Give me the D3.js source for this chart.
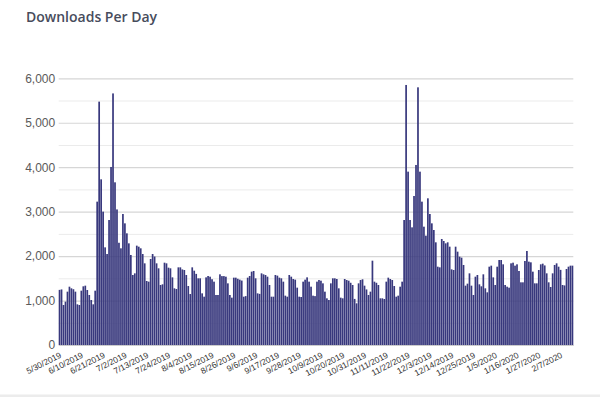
<!DOCTYPE html>
<html><head><meta charset="utf-8">
<script src="https://cdn.jsdelivr.net/npm/d3@7"></script>
<style>body{margin:0;background:#fff;} svg{display:block}</style>
</head><body>
<svg id="chart" width="600" height="397"></svg>
<script>
const title = "Downloads Per Day";
const startDate = "2019-05-30";
const downloads = [
1240, 1250,
900, 975, 1200, 1312, 1275, 1255, 1200,
915, 900, 1222, 1320, 1335, 1237, 1125,
1012, 915, 1222, 3225, 5475, 3727, 3000,
2197, 2047, 2812, 4005, 5660, 3660, 3050,
2300, 2175, 2947, 2737, 2512, 2287, 2025,
1575, 1612, 2235, 2212, 2175, 2047, 1837,
1440, 1425, 1935, 2047, 1990, 1837, 1725,
1350, 1365, 1852, 1837, 1740, 1725, 1522,
1275, 1260, 1747, 1747, 1700, 1687, 1575,
1327, 1147, 1747, 1672, 1600, 1500, 1500,
1162, 1087, 1522, 1552, 1537, 1480, 1425,
1125, 1125, 1590, 1550, 1550, 1537, 1387,
1125, 1065, 1515, 1515, 1490, 1470, 1450,
1087, 1100, 1515, 1552, 1650, 1665, 1500,
1162, 1150, 1612, 1590, 1575, 1537, 1350,
1087, 1087, 1575, 1560, 1515, 1500, 1425,
1110, 1087, 1575, 1537, 1485, 1470, 1290,
1087, 1080, 1425, 1470, 1522, 1425, 1312,
1110, 1100, 1425, 1462, 1447, 1387, 1200,
1050, 1012, 1387, 1500, 1500, 1485, 1275,
1065, 1050, 1485, 1462, 1447, 1400, 1350,
1037, 937, 1387, 1462, 1478, 1335, 1250,
1125, 1200, 1897, 1425, 1400, 1350, 1050,
1050, 1035, 1425, 1515, 1485, 1462, 1327,
1087, 1110, 1312, 1425, 2812, 5850, 3900,
2812, 2647, 3352, 4050, 5797, 3900, 3225,
2662, 2460, 3300, 2947, 2737, 2587, 2310,
1762, 1747, 2385, 2340, 2287, 2310, 2212,
1702, 1687, 2212, 2100, 1987, 1965, 1800,
1335, 1380, 1612, 1335, 1125, 1537, 1575,
1365, 1320, 1590, 1275, 1185, 1762, 1785,
1522, 1350, 1762, 1912, 1912, 1815, 1350,
1312, 1290, 1837, 1852, 1785, 1815, 1665,
1410, 1410, 1890, 2115, 1875, 1860, 1650,
1387, 1387, 1687, 1815, 1830, 1790, 1612,
1410, 1305, 1612, 1800, 1837, 1762, 1690,
1350, 1340, 1710, 1762, 1785, 1785
];
const tickLabels = ["5/30/2019","6/10/2019","6/21/2019","7/2/2019","7/13/2019","7/24/2019",
  "8/4/2019","8/15/2019","8/26/2019","9/6/2019","9/17/2019","9/28/2019","10/9/2019",
  "10/20/2019","10/31/2019","11/11/2019","11/22/2019","12/3/2019","12/14/2019",
  "12/25/2019","1/5/2020","1/16/2020","1/27/2020","2/7/2020"];
const yMajorTicks = [0, 1000, 2000, 3000, 4000, 5000, 6000];
const yMinorTicks = [500, 1500, 2500, 3500, 4500, 5500];

const parse = d3.timeParse("%Y-%m-%d");
const fmt = d3.timeFormat("%-m/%-d/%Y");
const start = parse(startDate);
const dates = downloads.map((d, i) => d3.timeDay.offset(start, i));
const categories = dates.map(fmt);

const W = 600, H = 397;
const plot = {left: 58.7, right: 573.3, top: 78.3, bottom: 345};
const svg = d3.select("#chart");

svg.append("text").attr("x", 26).attr("y", 22)
  .attr("font-family", "'Open Sans', sans-serif").attr("font-weight", 600)
  .attr("font-size", 14).attr("fill", "#474c5c").text(title);

const x = d3.scaleBand().domain(categories).range([plot.left, plot.right])
  .paddingInner(0.14).paddingOuter(0);
const y = d3.scaleLinear().domain([0, 6000]).range([plot.bottom, plot.top]);

// minor gridlines
svg.append("g").attr("transform", `translate(${plot.left},0)`)
  .call(d3.axisLeft(y).tickValues(yMinorTicks).tickSize(-(plot.right - plot.left)).tickFormat(""))
  .call(g => g.select(".domain").remove())
  .call(g => g.selectAll("line").attr("stroke", "#ebebeb").attr("stroke-width", 1));

// major gridlines + labels
svg.append("g").attr("transform", `translate(${plot.left},0)`)
  .call(d3.axisLeft(y).tickValues(yMajorTicks).tickSize(-(plot.right - plot.left))
    .tickPadding(3).tickFormat(d3.format(",")))
  .call(g => g.select(".domain").remove())
  .call(g => g.selectAll("line").attr("stroke", "#d6d6d6").attr("stroke-width", 1.2))
  .call(g => g.selectAll("text").attr("font-family", "'Liberation Sans', Arial, sans-serif")
    .attr("font-size", 12).attr("fill", "#5a5a5a").attr("x", -3.5));

// bars
svg.append("g").selectAll("rect").data(downloads).join("rect")
  .attr("x", (d, i) => x(categories[i]))
  .attr("width", x.bandwidth())
  .attr("y", d => y(d))
  .attr("height", d => y(0) - y(d))
  .attr("fill", "#38387d");

// x axis
const tickIdx = tickLabels.map(l => categories.indexOf(l));
svg.append("g").attr("transform", `translate(0,${plot.bottom})`)
  .call(d3.axisBottom(x).tickValues(tickIdx.map(i => categories[i])).tickSize(0).tickFormat(d => d))
  .call(g => g.select(".domain").attr("stroke", "#cccccc"))
  .call(g => g.selectAll("text")
    .attr("font-family", "'Liberation Sans', Arial, sans-serif").attr("font-size", 8.5)
    .attr("fill", "#333").attr("text-anchor", "end")
    .attr("x", 0).attr("y", 0).attr("dy", 0)
    .attr("transform", "translate(2.5,12) rotate(-27)"));

// bottom card border
svg.append("rect").attr("x", 0).attr("y", 394.5).attr("width", W).attr("height", 2.5).attr("fill", "#ececec");
</script>
</body></html>
